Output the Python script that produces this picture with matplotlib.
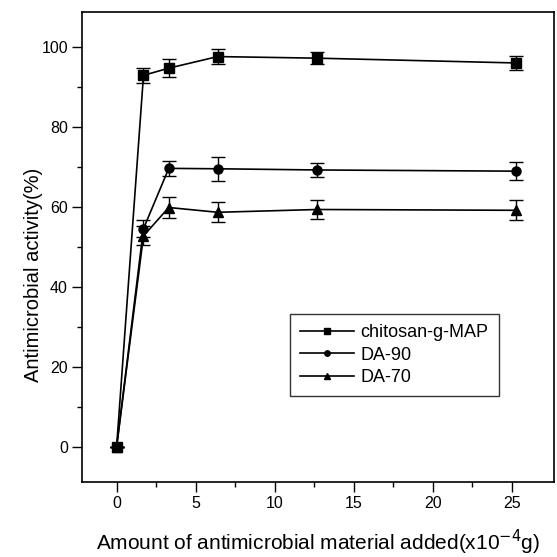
import numpy as np
import matplotlib
matplotlib.use('Agg')
import matplotlib.pyplot as plt

plt.rcParams['font.family'] = ['Liberation Sans', 'DejaVu Sans']

# amount added (x10^-4 g)
amount = [0, 1.7, 3.3, 6.4, 12.7, 25.3]

# antimicrobial activity (%) and error bars
chitosan = [0, 93.0, 94.8, 97.7, 97.3, 96.1]
chitosan_err = [0, 1.9, 2.3, 1.9, 1.5, 1.7]
da90 = [0, 54.6, 69.7, 69.6, 69.3, 69.0]
da90_err = [0, 2.1, 1.8, 3.0, 1.7, 2.3]
da70 = [0, 52.8, 59.9, 58.7, 59.4, 59.2]
da70_err = [0, 2.4, 2.7, 2.5, 2.4, 2.5]

fig = plt.figure(figsize=(5.57, 5.57), dpi=100)
ax = fig.add_axes([0.147, 0.135, 0.848, 0.843])

series = [
    (chitosan, chitosan_err, 's', 'chitosan-g-MAP'),
    (da90, da90_err, 'o', 'DA-90'),
    (da70, da70_err, '^', 'DA-70'),
]
for y, err, mk, name in series:
    ax.errorbar(amount, y, yerr=err, fmt='none', ecolor='black',
                elinewidth=1.0, capsize=5, capthick=1.0)
    ax.plot(amount, y, color='black', marker=mk, markersize=6.5,
            linewidth=1.2, label=name)

ax.set_xlim(-2.2, 27.7)
ax.set_ylim(-8.8, 108.8)
ax.set_xticks([0, 5, 10, 15, 20, 25])
ax.set_xticks([2.5, 7.5, 12.5, 17.5, 22.5], minor=True)
ax.set_yticks([0, 20, 40, 60, 80, 100])
ax.set_yticks([10, 30, 50, 70, 90], minor=True)
ax.tick_params(which='major', direction='out', length=7, width=1.0,
               labelsize=11.5, pad=3, top=False, right=False)
ax.tick_params(which='minor', direction='out', length=3.5, width=1.0,
               top=False, right=False)
for s in ax.spines.values():
    s.set_linewidth(1.2)

ax.set_xlabel('Amount of antimicrobial material added(x10$^{-4}$g)',
              fontsize=15, labelpad=12)
ax.set_ylabel('Antimicrobial activity(%)', fontsize=14.5)
ax.yaxis.set_label_coords(-0.082, 0.44)

leg = ax.legend(loc='upper left', bbox_to_anchor=(0.441, 0.357),
                borderaxespad=0, fontsize=13, frameon=True, fancybox=False,
                edgecolor='black', handlelength=3.0, handletextpad=0.35,
                markerscale=0.6, borderpad=0.55, labelspacing=0.3)
leg.get_frame().set_linewidth(1.0)

fig.savefig('out.png', dpi=100)
